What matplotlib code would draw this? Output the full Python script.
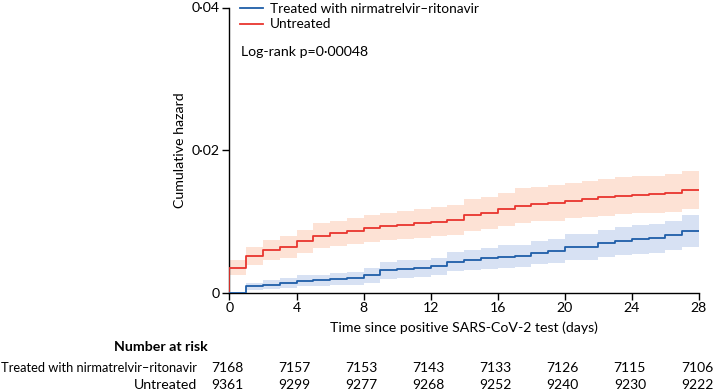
import matplotlib
matplotlib.use("Agg")
import matplotlib.pyplot as plt
import matplotlib.transforms as mtransforms

# ---- data (cumulative hazard x 1e-3, one value per day interval 0..27) ----
days = list(range(0, 29))
untreated_mid = [3.5, 5.1, 5.9, 6.4, 7.2, 8.0, 8.3, 8.6, 9.0, 9.3, 9.5, 9.7, 9.95, 10.2,
                 10.9, 11.2, 11.7, 12.2, 12.4, 12.6, 12.9, 13.1, 13.4, 13.6, 13.7, 13.8, 14.0, 14.4]
untreated_lo = [2.4, 3.9, 4.5, 4.9, 5.6, 6.3, 6.5, 6.8, 7.1, 7.4, 7.5, 7.7, 7.9, 8.1,
                8.7, 8.9, 9.4, 9.8, 10.0, 10.1, 10.4, 10.6, 10.8, 11.0, 11.1, 11.2, 11.3, 11.7]
untreated_hi = [4.6, 6.4, 7.3, 7.9, 8.8, 9.8, 10.1, 10.4, 10.9, 11.2, 11.5, 11.7, 12.0, 12.3,
                13.1, 13.4, 14.0, 14.6, 14.8, 15.1, 15.4, 15.6, 15.9, 16.2, 16.3, 16.4, 16.6, 17.1]
treated_mid = [0.0, 0.85, 1.1, 1.3, 1.65, 1.7, 1.85, 2.0, 2.4, 3.1, 3.3, 3.4, 3.65, 4.35,
               4.55, 4.8, 5.05, 5.1, 5.6, 5.8, 6.4, 6.4, 6.9, 7.25, 7.45, 7.6, 8.05, 8.65]
treated_lo = [0.0, 0.35, 0.5, 0.6, 0.85, 0.9, 1.0, 1.1, 1.4, 1.95, 2.1, 2.2, 2.4, 2.95,
              3.1, 3.3, 3.5, 3.55, 3.95, 4.1, 4.6, 4.6, 5.0, 5.3, 5.45, 5.6, 5.95, 6.45]
treated_hi = [0.0, 1.4, 1.75, 2.0, 2.45, 2.5, 2.7, 2.9, 3.4, 4.25, 4.5, 4.6, 4.9, 5.75,
              6.0, 6.3, 6.6, 6.65, 7.25, 7.5, 8.2, 8.2, 8.8, 9.2, 9.45, 9.6, 10.1, 10.85]

risk_days = [0, 4, 8, 12, 16, 20, 24, 28]
risk_treated = [7168, 7157, 7153, 7143, 7133, 7126, 7115, 7106]
risk_untreated = [9361, 9299, 9277, 9268, 9252, 9240, 9230, 9222]
yticks = [0, 0.02, 0.04]
ytick_labels = ["0", "0·02", "0·04"]

plt.rcParams["font.family"] = ["Lato", "DejaVu Sans"]

RED = "#e8352e"
RED_BAND = "#fde2d5"
BLUE = "#1f5ea8"
BLUE_BAND = "#d7e1f3"
FS = 10.2

fig = plt.figure(figsize=(7.13, 3.92), dpi=100)
ax = fig.add_axes([229.5 / 713, 99.5 / 392, (699 - 229.5) / 713, 285 / 392])

def ext(v):
    return [x / 1000 for x in v] + [v[-1] / 1000]

ax.fill_between(days, ext(untreated_lo), ext(untreated_hi), step="post",
                color=RED_BAND, lw=0, zorder=1)
ax.fill_between(days, ext(treated_lo), ext(treated_hi), step="post",
                color=BLUE_BAND, lw=0, zorder=1)
ax.step([0] + days, [0] + ext(untreated_mid), where="post", color=RED, lw=1.3, zorder=3,
        label="Untreated")
ax.step(days, ext(treated_mid), where="post", color=BLUE, lw=1.3, zorder=3,
        label="Treated with nirmatrelvir–ritonavir")

ax.set_xlim(0, 28)
ax.set_ylim(0, 0.04)
ax.set_xticks(risk_days)
ax.set_yticks(yticks)
ax.set_yticklabels(ytick_labels)
for s in ["top", "right"]:
    ax.spines[s].set_visible(False)
for s in ["left", "bottom"]:
    ax.spines[s].set_linewidth(1.0)
ax.tick_params(direction="out", length=5, width=1.0, labelsize=FS, pad=2)
ax.set_ylabel("Cumulative hazard", fontsize=FS, labelpad=4)
ax.set_xlabel("Time since positive SARS-CoV-2 test (days)", fontsize=FS, labelpad=5)

h, l = ax.get_legend_handles_labels()
leg = ax.legend(h[::-1], l[::-1], loc="upper left", bbox_to_anchor=(0.01, 1.035),
                frameon=False, fontsize=9.8, handlelength=1.7, handletextpad=0.5,
                labelspacing=0.25, borderaxespad=0)
ax.text(0.025, 0.845, "Log-rank p=0·00048", transform=ax.transAxes, fontsize=FS,
        va="center", ha="left")

trans = mtransforms.blended_transform_factory(ax.transData, ax.transAxes)
trans = trans + mtransforms.ScaledTranslation(-2 / 100, 0, fig.dpi_scale_trans)
lab_x = 197
fig.text(208 / 713, (392 - 347) / 392, "Number at risk",
         ha="right", va="center", fontsize=FS, fontweight="bold")
fig.text(lab_x / 713, (392 - 368) / 392, "Treated with nirmatrelvir–ritonavir",
         ha="right", va="center", fontsize=9.3)
fig.text(lab_x / 713, (392 - 385) / 392, "Untreated", ha="right", va="center", fontsize=FS)
for d, a, b in zip(risk_days, risk_treated, risk_untreated):
    ax.text(d, -(368 - 292.5) / 285, str(a), transform=trans, ha="center", va="center",
            fontsize=10, clip_on=False)
    ax.text(d, -(385 - 292.5) / 285, str(b), transform=trans, ha="center", va="center",
            fontsize=10, clip_on=False)

fig.savefig("out.png", dpi=100)
